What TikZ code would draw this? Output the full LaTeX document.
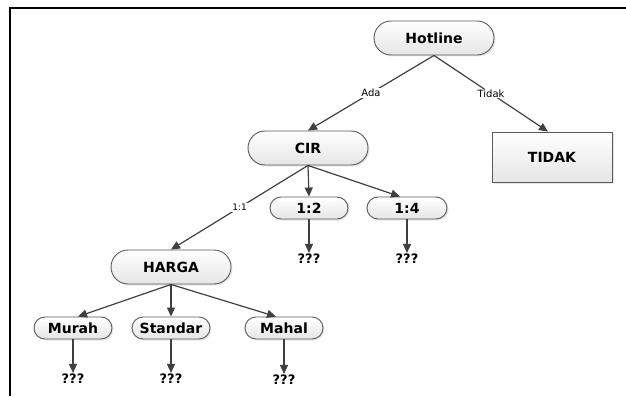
\documentclass[tikz,border=0pt]{standalone}
\usepackage{fontspec}
\setmainfont{DejaVu Sans}
\usetikzlibrary{arrows.meta,shadows}

\tikzset{
    box/.style={draw=black!65, line width=0.9pt, top color=white, bottom color=black!10,
        font=\fontsize{14}{16}\selectfont\bfseries, inner sep=1pt,
        drop shadow={shadow xshift=1.5pt, shadow yshift=-1.5pt, opacity=0.2}},
    big/.style={box, rounded corners=17pt, minimum width=120pt, minimum height=34pt},
    small/.style={box, rounded corners=11pt, minimum width=78pt, minimum height=22pt},
    leaf/.style={font=\fontsize{13}{15}\selectfont\bfseries, inner sep=1pt},
    link/.style={draw=black!75, line width=1.2pt, -{Triangle[length=9pt,width=8pt]}},
    tag/.style={midway, fill=white, inner sep=1pt, font=\fontsize{10}{12}\selectfont}
}

\begin{document}
\begin{tikzpicture}[x=1pt, y=-1pt]
    \useasboundingbox (0,0) rectangle (626,396);
    \draw[line width=2pt] (9.5,396) -- (9.5,8.5) -- (626,8.5);

    \node[big] (hotline) at (434,38) {Hotline};
    \node[big] (cir) at (308,148) {CIR};
    \node[box, minimum width=120pt, minimum height=50pt] (tidak) at (552,157) {TIDAK};
    \node[small] (r12) at (309,208) {1:2};
    \node[small, minimum width=80pt] (r14) at (407,208) {1:4};
    \node[big] (harga) at (171,267) {HARGA};
    \node[small] (murah) at (73,328) {Murah};
    \node[small] (standar) at (171,328) {Standar};
    \node[small] (mahal) at (284,328) {Mahal};

    \node[leaf] (q12) at (309,259) {???};
    \node[leaf] (q14) at (407,259) {???};
    \node[leaf] (qmurah) at (73,379) {???};
    \node[leaf] (qstandar) at (171,379) {???};
    \node[leaf] (qmahal) at (284,380) {???};

    \draw[link] (hotline.south) -- node[tag] {Ada} (cir.north);
    \draw[link] (hotline.south) -- node[tag] {Tidak} ([xshift=-4pt]tidak.north);
    \draw[link] (cir.south) -- node[tag, font=\fontsize{9}{11}\selectfont] {1:1} (harga.north);
    \draw[link] (cir.south) -- (r12.north);
    \draw[link] (cir.south) -- ([xshift=-7pt]r14.north);
    \draw[link] (harga.south) -- ([xshift=5pt]murah.north);
    \draw[link] (harga.south) -- (standar.north);
    \draw[link] (harga.south) -- ([xshift=-8pt]mahal.north);

    \draw[link] (r12.south) -- (q12.north);
    \draw[link] (r14.south) -- (q14.north);
    \draw[link] (murah.south) -- (qmurah.north);
    \draw[link] (standar.south) -- (qstandar.north);
    \draw[link] (mahal.south) -- (qmahal.north);
\end{tikzpicture}
\end{document}
